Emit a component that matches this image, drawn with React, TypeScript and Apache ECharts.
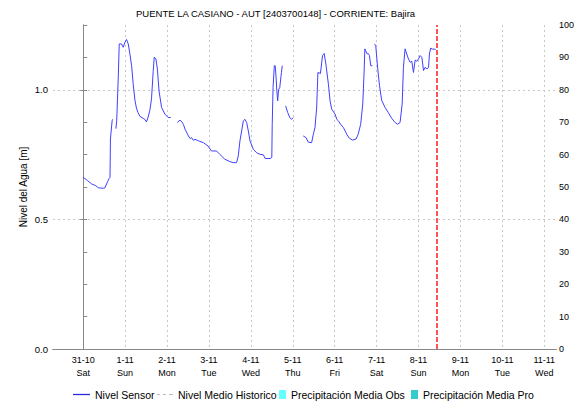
import React, { useEffect, useRef } from "react";
import * as echarts from "echarts";

const titleText = "PUENTE LA CASIANO - AUT [2403700148] - CORRIENTE: Bajira";
const dateLabels = ["31-10", "1-11", "2-11", "3-11", "4-11", "5-11", "6-11", "7-11", "8-11", "9-11", "10-11", "11-11"];
const weekdayLabels = ["Sat", "Sun", "Mon", "Tue", "Wed", "Thu", "Fri", "Sat", "Sun", "Mon", "Tue", "Wed"];
const dayTicks = [0, 1, 2, 3, 4, 5, 6, 7, 8, 9, 10, 11];
const levelTicks = [0, 0.5, 1.0];
const nowDay = 8.43;

// days since 31-10 00:00 ; null marks a gap in the record
const sensorDays = [
  0.0, 0.1, 0.2, 0.3, 0.36, 0.48, 0.52, 0.58, 0.62, 0.64, 0.65, 0.69, 0.7, 0.74,
  0.78, 0.8, 0.84, 0.86, 0.915, 0.955, 0.995, 1.035, 1.075, 1.115, 1.155, 1.195, 1.235, 1.27, 1.31, 1.35, 1.43, 1.47, 1.51, 1.55, 1.59, 1.63, 1.67, 1.695, 1.735, 1.77, 1.81, 1.87, 1.95, 2.03, 2.09, 2.17,
  2.245, 2.31, 2.36, 2.39, 2.43, 2.51, 2.55, 2.59, 2.63, 2.67, 2.75, 2.87, 2.98, 3.06, 3.18, 3.26, 3.38, 3.5, 3.58, 3.66, 3.7, 3.74, 3.78, 3.82, 3.86, 3.9, 3.94, 3.98, 4.06, 4.14, 4.22, 4.3, 4.34, 4.46, 4.5, 4.51, 4.53, 4.56, 4.58, 4.6, 4.62, 4.64, 4.66, 4.69, 4.73, 4.75, 4.79,
  4.83, 4.88, 4.93, 4.97, 5.01, 5.13,
  5.25, 5.32, 5.37, 5.45, 5.49, 5.53, 5.57, 5.6, 5.66, 5.71, 5.75, 5.79, 5.85, 5.89, 5.93, 6.01, 6.05, 6.09, 6.14, 6.21, 6.29, 6.35, 6.43, 6.51, 6.56, 6.62, 6.67, 6.7, 6.72, 6.74, 6.78, 6.8, 6.83, 6.86, 6.9, 6.93,
  6.95, 6.98, 7.01, 7.04, 7.07, 7.12, 7.2, 7.28, 7.36, 7.44, 7.5, 7.56, 7.61, 7.64, 7.68, 7.72, 7.76, 7.8, 7.84, 7.88, 7.92, 7.96, 8.0, 8.04, 8.08, 8.12, 8.16, 8.2, 8.24, 8.26, 8.29, 8.33, 8.38, 8.41,
];
const sensorLevels = [
  0.663, 0.65, 0.637, 0.63, 0.622, 0.62, 0.622, 0.645, 0.658, 0.662, 0.81, 0.88, 0.886, null,
  0.85, 0.88, 1.061, 1.177, 1.177, 1.164, 1.183, 1.194, 1.177, 1.138, 1.093, 1.02, 0.96, 0.93, 0.912, 0.898, 0.89, 0.886, 0.876, 0.895, 0.92, 0.965, 1.07, 1.126, 1.119, 1.08, 0.995, 0.932, 0.906, 0.893, 0.893, null,
  0.874, 0.883, 0.875, 0.867, 0.848, 0.822, 0.812, 0.815, 0.805, 0.809, 0.803, 0.796, 0.783, 0.764, 0.764, 0.751, 0.732, 0.723, 0.719, 0.719, 0.745, 0.803, 0.841, 0.88, 0.886, 0.874, 0.841, 0.803, 0.77, 0.757, 0.751, 0.749, 0.735, 0.735, 0.739, 0.867, 1.009, 1.093, 1.093, 1.054, 0.996, 0.957, 1.0, 1.009, 1.067, 1.093, null,
  0.938, 0.912, 0.893, 0.886, 0.893, null,
  0.822, 0.815, 0.798, 0.796, 0.828, 0.854, 0.93, 1.067, 1.063, 1.132, 1.14, 1.099, 1.022, 0.957, 0.925, 0.906, 0.886, 0.88, 0.867, 0.854, 0.828, 0.813, 0.806, 0.81, 0.828, 0.867, 0.945, 1.061, 1.158, 1.15, 1.138, 1.14, 1.132, 1.093, 1.093, null,
  1.177, 1.17, 1.112, 1.061, 1.016, 0.96, 0.932, 0.912, 0.89, 0.874, 0.867, 0.874, 0.945, 1.087, 1.158, 1.138, 1.119, 1.106, 1.11, 1.067, 1.115, 1.11, 1.119, 1.132, 1.125, 1.074, 1.087, 1.08, 1.087, 1.138, 1.161, 1.157, 1.157, 1.155,
];

const FONT = "Liberation Sans, Arial, sans-serif";

export default function App() {
  const ref = useRef<HTMLDivElement>(null);
  useEffect(() => {
    if (!ref.current) return;
    const chart = echarts.init(ref.current, undefined, { renderer: "svg" });
    const sensorData = sensorDays.map((d, i) => [d, sensorLevels[i] === null ? "-" : sensorLevels[i]]);
    const legendBase = {
      top: 389,
      padding: 0,
      itemGap: 4,
      itemTextGap: 3,
      textStyle: { fontSize: 10.5, color: "#000", fontFamily: FONT },
      selectedMode: false,
    };
    chart.setOption({
      animation: false,
      backgroundColor: "#fff",
      textStyle: { fontFamily: FONT },
      title: {
        text: titleText,
        left: 136,
        top: 8,
        padding: 0,
        textStyle: { fontSize: 9.5, fontWeight: "normal", color: "#000", fontFamily: FONT },
      },
      legend: [
        {
          ...legendBase,
          left: 73,
          itemWidth: 17,
          itemHeight: 10,
          data: [{ name: "Nivel Sensor", icon: "path://M0,0h17v1.3H0z", itemStyle: { color: "#2a2ae0" } }],
        },
        {
          ...legendBase,
          left: 157,
          itemWidth: 16,
          itemHeight: 10,
          data: [
            {
              name: "Nivel Medio Historico",
              icon: "path://M0,0h3v1H0z M6,0h3v1H6z M12,0h4v1h-4z",
              itemStyle: { color: "#bbbbbb" },
            },
          ],
        },
        { ...legendBase, left: 279, itemWidth: 7, itemHeight: 9, data: [{ name: "Precipitación Media Obs", icon: "rect" }] },
        { ...legendBase, left: 411, itemWidth: 7, itemHeight: 9, data: [{ name: "Precipitación Media Pro", icon: "rect" }] },
      ],
      grid: { left: 53, top: 25, right: 24, bottom: 54, containLabel: false },
      xAxis: [
        {
          type: "value",
          min: -0.72,
          max: 11.28,
          position: "bottom",
          axisLine: { show: true, lineStyle: { color: "#333", type: [1, 1], width: 1 } },
          axisTick: { show: false, customValues: dayTicks },
          axisLabel: {
            customValues: dayTicks,
            formatter: (v: number) => {
              const i = Math.round(v);
              return dateLabels[i] + "\n" + weekdayLabels[i];
            },
            fontSize: 9,
            lineHeight: 13,
            color: "#000",
            margin: 4,
            fontFamily: FONT,
          },
          splitLine: { show: true, lineStyle: { color: "#c8c8c8", type: [2, 3], width: 1 } },
        },
        {
          type: "value",
          min: -0.72,
          max: 11.28,
          position: "top",
          axisLine: { show: true, lineStyle: { color: "#888", width: 1 } },
          axisTick: { show: false },
          axisLabel: { show: false },
          splitLine: { show: false },
        },
      ],
      yAxis: [
        {
          type: "value",
          min: 0,
          max: 1.25,
          position: "left",
          name: "Nivel del Agua [m]",
          nameLocation: "middle",
          nameGap: 25,
          nameMoveOverlap: false,
          nameTextStyle: { fontSize: 10, color: "#000", fontFamily: FONT },
          axisLine: { show: true, lineStyle: { color: "#888", width: 1 } },
          axisTick: { show: true, customValues: levelTicks, length: 3, lineStyle: { color: "#888" } },
          axisLabel: {
            customValues: levelTicks,
            formatter: (v: number) => v.toFixed(1),
            fontSize: 9.5,
            color: "#000",
            margin: 5,
            fontFamily: FONT,
          },
          splitLine: { show: true, lineStyle: { color: "#c8c8c8", type: [2, 3], width: 1 } },
        },
        {
          type: "value",
          min: 0,
          max: 100,
          interval: 10,
          position: "right",
          axisLine: { show: true, lineStyle: { color: "#888", width: 1 } },
          axisTick: { show: true, length: 4, lineStyle: { color: "#888" } },
          axisLabel: { fontSize: 9, color: "#000", margin: 3, fontFamily: FONT },
          splitLine: { show: false },
        },
      ],
      series: [
        {
          name: "Nivel Sensor",
          type: "line",
          xAxisIndex: 0,
          yAxisIndex: 0,
          data: sensorData,
          symbol: "none",
          connectNulls: false,
          color: "#4040ff",
          lineStyle: { color: "#4040ff", width: 1 },
          markLine: {
            silent: true,
            symbol: "none",
            label: { show: false },
            lineStyle: { color: "#ff1a1a", width: 1.5, type: [5, 2] },
            data: [{ xAxis: nowDay }],
          },
        },
        {
          name: "Nivel Medio Historico",
          type: "line",
          xAxisIndex: 0,
          yAxisIndex: 0,
          data: [],
          symbol: "none",
          color: "#bbbbbb",
          lineStyle: { color: "#bbbbbb", width: 1, type: [2, 3] },
        },
        {
          name: "Precipitación Media Obs",
          type: "bar",
          xAxisIndex: 0,
          yAxisIndex: 1,
          data: [],
          color: "#66ffff",
        },
        {
          name: "Precipitación Media Pro",
          type: "bar",
          xAxisIndex: 0,
          yAxisIndex: 1,
          data: [],
          color: "#33cccc",
        },
      ],
    });
    return () => chart.dispose();
  }, []);
  return (
    <div
      ref={ref}
      style={{ position: "fixed", left: 0, top: 0, width: 580, height: 403, background: "#fff" }}
    />
  );
}
